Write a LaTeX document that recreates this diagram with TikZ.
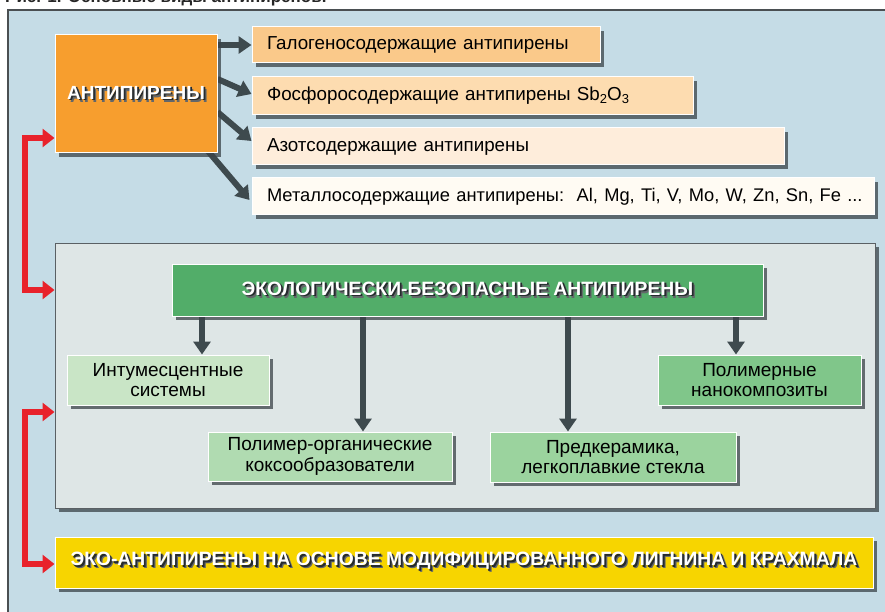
\documentclass[tikz,border=0pt]{standalone}
\usepackage{fontspec}
\setmainfont{Liberation Sans}
\usetikzlibrary{arrows.meta,shadows}
\definecolor{bgc}{HTML}{C5DCE6}
\definecolor{framec}{HTML}{4A4F52}
\definecolor{antior}{HTML}{F79E2E}
\definecolor{gone}{HTML}{FAC98A}
\definecolor{gtwo}{HTML}{FDDCB0}
\definecolor{gthree}{HTML}{FEEDDB}
\definecolor{gfour}{HTML}{FFFBF3}
\definecolor{panelc}{HTML}{DEE6E6}
\definecolor{panelb}{HTML}{5A6064}
\definecolor{greenh}{HTML}{52AD69}
\definecolor{gintum}{HTML}{C9E5C6}
\definecolor{gpolorg}{HTML}{B0DBB1}
\definecolor{gpredc}{HTML}{9BD39E}
\definecolor{gnano}{HTML}{80C68A}
\definecolor{yel}{HTML}{F7D500}
\definecolor{redc}{HTML}{E8222B}
\definecolor{arrc}{HTML}{3E4A4E}
\definecolor{shc}{HTML}{3A4348}
\definecolor{tshone}{HTML}{262B2E}
\definecolor{tshtwo}{HTML}{63676A}
\newcommand\shtext[1]{\makebox[0pt][l]{\hspace{3pt}\raisebox{-3pt}{\textcolor{tshtwo}{#1}}}\makebox[0pt][l]{\hspace{1.8pt}\raisebox{-1.8pt}{\textcolor{tshone}{#1}}}\textcolor{white}{#1}}
\pgfdeclarelayer{back}
\pgfdeclarelayer{mid}
\pgfsetlayers{back,mid,main}
\tikzset{
  box/.style={draw=white, line width=1pt, inner sep=0pt,
    drop shadow={shadow xshift=4pt, shadow yshift=-4pt, fill=shc, opacity=0.75}},
  lbox/.style={box, inner xsep=15pt, align=left, font=\fontsize{18.8}{20}\selectfont},
  cbox/.style={box, align=center, font=\fontsize{19}{20.5}\selectfont},
  darrow/.style={draw=arrc, line width=6pt, -{Triangle[width=17pt,length=13pt]}},
  redarrow/.style={draw=redc, line width=6pt, {Triangle[width=18pt,length=12pt]}-{Triangle[width=18pt,length=12pt]}},
}
\begin{document}
\begin{tikzpicture}[x=1pt,y=-1pt]
\useasboundingbox (0,0) rectangle (885,612);
\clip (0,0) rectangle (885,612);
\begin{pgfonlayer}{back}
\fill[white] (0,0) rectangle (885,612);
\draw[framec, line width=2pt, fill=bgc] (8,10) rectangle (905,640);
\node[anchor=base west, inner sep=0pt, font=\bfseries\fontsize{17}{18}\selectfont, text=black!85] (cap) at (5,2.5) {Рис. 1. Основные виды антипиренов.};
\node[draw=panelb, line width=1pt, fill=panelc, minimum width=820pt, minimum height=265pt, inner sep=0pt,
  drop shadow={shadow xshift=4pt, shadow yshift=-4pt, fill=shc, opacity=0.75}] (panel) at (465,375.5) {};
\end{pgfonlayer}

% top group
\node[box, fill=antior, minimum width=162pt, minimum height=118pt] (anti) at (136,94)
  {\fontsize{19}{20}\selectfont\bfseries\shtext{АНТИПИРЕНЫ}};
\node[lbox, fill=gone, minimum width=348pt, minimum height=36pt, text width=318pt] (g1) at (426,45)
  {Галогеносодержащие антипирены};
\node[lbox, fill=gtwo, minimum width=441pt, minimum height=38pt, text width=411pt] (g2) at (472.5,96)
  {Фосфоросодержащие антипирены Sb\raisebox{-2.5pt}{\fontsize{13}{14}\selectfont 2}O\raisebox{-2.5pt}{\fontsize{13}{14}\selectfont 3}};
\node[lbox, fill=gthree, minimum width=532pt, minimum height=37pt, text width=502pt] (g3) at (518,146.5)
  {Азотсодержащие антипирены};
\node[lbox, fill=gfour, minimum width=622pt, minimum height=37pt, text width=592pt] (g4) at (563,196.5)
  {\fontsize{18.3}{20}\selectfont\mbox{Металлосодержащие антипирены:\ \ Al, Mg, Ti, V, Mo, W, Zn, Sn, Fe ...}};

% middle group
\node[box, fill=greenh, minimum width=591pt, minimum height=52pt] (head) at (467.5,290)
  {\bfseries\fontsize{19.3}{20}\selectfont\shtext{ЭКОЛОГИЧЕСКИ-БЕЗОПАСНЫЕ АНТИПИРЕНЫ}};
\node[cbox, fill=gintum, minimum width=202pt, minimum height=50pt] (intum) at (168,380)
  {Интумесцентные\\системы};
\node[cbox, fill=gpolorg, minimum width=244pt, minimum height=49pt] (polorg) at (330,456.5)
  {Полимер-органические\\коксообразователи};
\node[cbox, fill=gpredc, minimum width=246pt, minimum height=50pt] (predc) at (613,457)
  {Предкерамика,\\легкоплавкие стекла};
\node[cbox, fill=gnano, minimum width=203pt, minimum height=50pt] (nano) at (759.5,380)
  {Полимерные\\нанокомпозиты};

% bottom
\node[box, fill=yel, minimum width=818pt, minimum height=51pt] (eco) at (464,562.5)
  {\fontsize{19.3}{20}\selectfont\bfseries\shtext{ЭКО-АНТИПИРЕНЫ НА ОСНОВЕ МОДИФИЦИРОВАННОГО ЛИГНИНА И КРАХМАЛА}};

\begin{pgfonlayer}{mid}
\draw[darrow] (anti.east |- g1.west) -- (g1.west);
\draw[darrow] (anti.east |- 0,79) -- (g2.west |- 0,94);
\draw[darrow] (anti.east |- 0,112) -- (g3.west |- 0,141);
\draw[darrow] ([shift={(-10,-3)}]anti.south east) -- ([xshift=-2pt]g4.west |- 0,200);
\draw[darrow] (202,0 |- head.south) -- (202,0 |- intum.north);
\draw[darrow] (363,0 |- head.south) -- (363,0 |- polorg.north);
\draw[darrow] (568,0 |- head.south) -- (568,0 |- predc.north);
\draw[darrow] (736,0 |- head.south) -- (736,0 |- nano.north);
\draw[redarrow] (anti.west |- 0,138) -- (25,138) -- (25,290) -- (panel.west |- 0,290);
\draw[redarrow] (panel.west |- 0,412) -- (25,412) -- (25,564) -- (eco.west |- 0,564);
\end{pgfonlayer}
\end{tikzpicture}
\end{document}
